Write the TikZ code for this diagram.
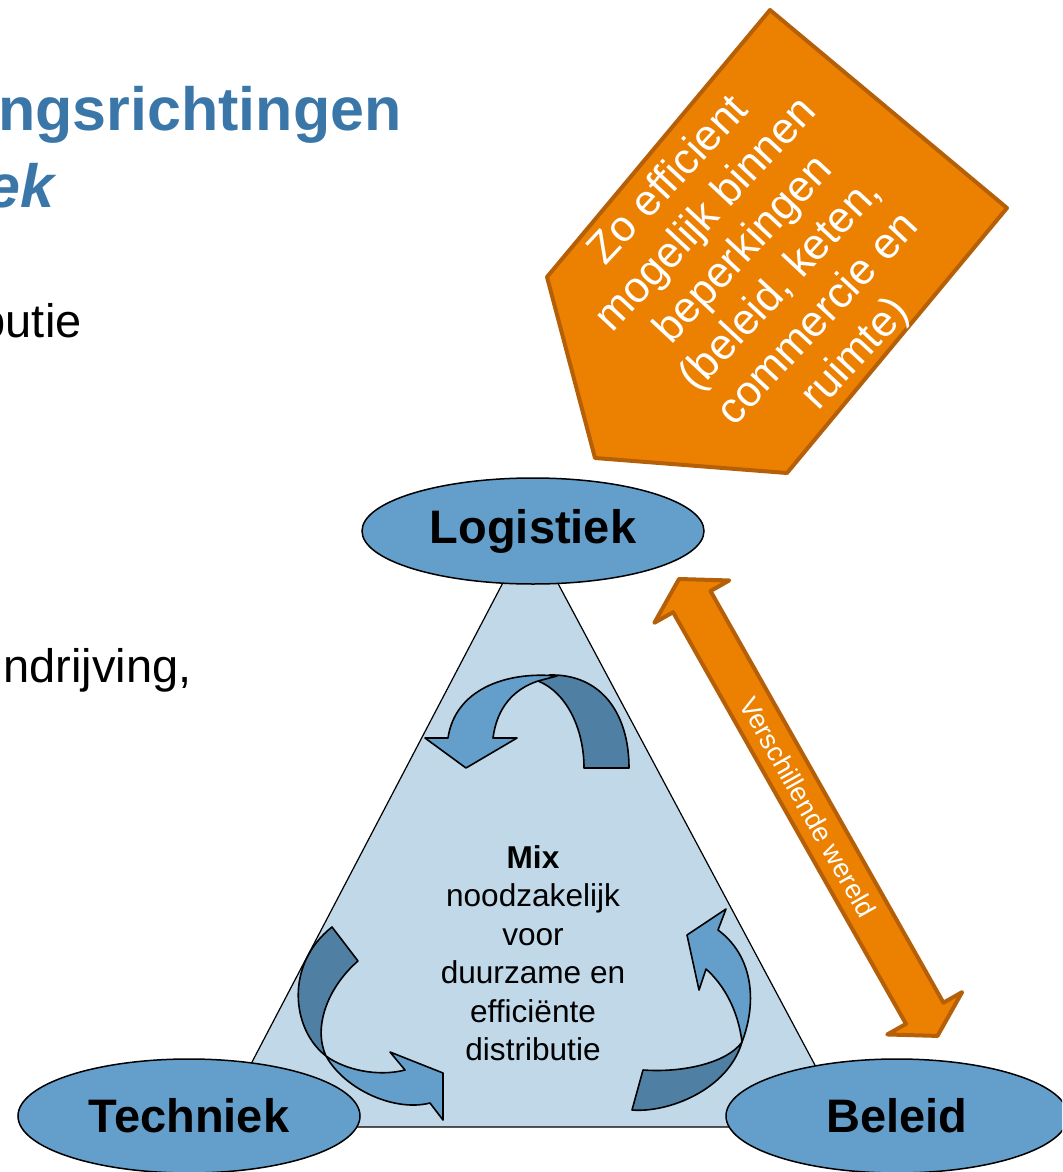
\documentclass[tikz,border=0pt]{standalone}
\usepackage{fontspec}
\setmainfont{Liberation Sans}
\usetikzlibrary{shapes.geometric}

\definecolor{trifill}{RGB}{192,216,232}
\definecolor{pillarblue}{RGB}{100,158,202}
\definecolor{turnblue}{RGB}{79,128,164}
\definecolor{goalorange}{RGB}{236,128,0}
\definecolor{goalrim}{RGB}{181,96,8}
\definecolor{titleblue}{RGB}{58,119,168}

\begin{document}
\begin{tikzpicture}[
    x=0.5pt, y=-0.5pt,
    % Styles
    pillar/.style={
        draw, fill=pillarblue, ellipse, line width=0.75pt, minimum width=171pt, inner sep=0pt,
        font=\fontsize{23.5}{28}\selectfont\bfseries
    },
    turndark/.style={draw, line width=0.8pt, line join=round, fill=turnblue},
    turnlight/.style={draw, line width=0.8pt, line join=round, fill=pillarblue},
    block/.style={draw=goalrim, fill=goalorange, line width=2pt, line join=round},
    blocktext/.style={text=white, align=center, inner sep=0pt},
    slidetext/.style={anchor=base east, inner sep=0pt, font=\fontsize{23.5}{28}\selectfont},
    slidetitle/.style={anchor=base east, inner sep=0pt, text=titleblue, font=\fontsize{30.5}{36}\selectfont\bfseries}
]
    \useasboundingbox (0,0) rectangle (1062,1172);
    \clip (0,0) rectangle (1062,1172);

    % --- SLIDE TEXT (cut off at the left) ---
    \node[slidetitle] (title1) at (402,131) {ngsrichtingen};
    \node[slidetitle] (title2) at (55,207) {\itshape ek};
    \node[slidetext] (line1) at (82,337) {butie};
    \node[slidetext] (line2) at (192,682) {ndrijving,};

    % --- TRIANGLE ---
    \draw[fill=trifill, line width=0.6pt] (530,531) -- (848,1127) -- (218,1127) -- cycle;

    % --- TURNING ARROWS ---
    % top
    \draw[turndark] (584,768) -- (629,768) .. controls (629,712) and (600,674) .. (550,675)
        -- (538,681) .. controls (566,692) and (584,728) .. (584,768) -- cycle;
    \draw[turnlight] (557,676) .. controls (505,671) and (455,690) .. (448,738)
        -- (425,738) -- (466,768) -- (517,738) -- (493,738)
        .. controls (497,707) and (514,689) .. (538,681) -- cycle;
    % left
    \draw[turndark] (332,927) -- (358,961) .. controls (330,985) and (312,1025) .. (326,1056)
        .. controls (292,1030) and (284,965) .. (332,927) -- cycle;
    \draw[turnlight] (326,1056) .. controls (345,1090) and (395,1112) .. (430,1103)
        -- (443,1120) -- (443,1073) -- (390,1052) -- (405,1070)
        .. controls (378,1077) and (345,1070) .. (326,1056) -- cycle;
    % right
    \draw[turndark] (643,1070) -- (632,1110) .. controls (668,1113) and (728,1090) .. (742,1042)
        .. controls (728,1062) and (685,1073) .. (643,1070) -- cycle;
    \draw[turnlight] (742,1042) .. controls (758,1000) and (752,955) .. (718,930)
        -- (726,909) -- (687,935) -- (699,990) -- (706,969)
        .. controls (724,985) and (738,1010) .. (742,1042) -- cycle;

    % Centre text
    \node[align=center, inner sep=0pt, font=\fontsize{15.8}{19.25}\selectfont] (mix) at (533,953)
        {\textbf{Mix}\\noodzakelijk\\voor\\duurzame en\\efficiënte\\distributie};

    % --- PILLARS ---
    \node[pillar, minimum height=53pt] (logistiek) at (533,531) {Logistiek};
    \node[pillar, minimum height=57pt] (techniek) at (189,1116) {Techniek};
    \node[pillar, minimum height=57pt] (beleid) at (897,1116) {Beleid};

    % --- GOAL BLOCK ---
    \draw[block] (770,10) -- (1007,208) -- (787,473) -- (595,458) -- (547,277) -- cycle;
    \node[blocktext, rotate=47, font=\fontsize{21.7}{25.5}\selectfont] (goal) at (763,268)
        {Zo efficient\\mogelijk binnen\\beperkingen\\(beleid, keten,\\commercie en\\ruimte)};

    % --- DOUBLE ARROW ---
    \coordinate (vwtop) at (679,579);
    \begin{scope}[shift={(vwtop)}, rotate=-60.5]
        \draw[block] (0,0) -- (26,-43) -- (26,-21.5) -- (499,-21.5) -- (499,-43) -- (525,0)
            -- (499,43) -- (499,21.5) -- (26,21.5) -- (26,43) -- cycle;
        \coordinate (vwbot) at (525,0);
        \node[blocktext, rotate=-60.5, font=\fontsize{13.5}{16}\selectfont] (vwlabel) at (262.5,0) {Verschillende wereld};
    \end{scope}

\end{tikzpicture}
\end{document}
